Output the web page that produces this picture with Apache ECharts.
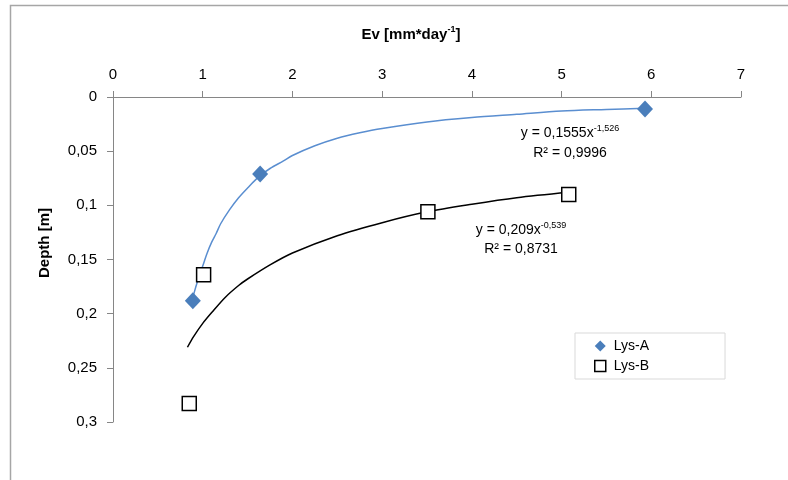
<!DOCTYPE html>
<html>
<head>
<meta charset="utf-8">
<script src="https://cdn.jsdelivr.net/npm/echarts@6/dist/echarts.min.js"></script>
<style>
  html, body { margin: 0; padding: 0; background: #fff; }
  #chart { width: 788px; height: 480px; }
</style>
</head>
<body>
<div id="chart"></div>
<script>
// measured points (Ev, depth)
const lysA = [[5.93, 0.011], [1.64, 0.071], [0.89, 0.188]]
const lysB = [[5.08, 0.090], [3.51, 0.106], [1.01, 0.164], [0.85, 0.283]]

// trend curves
const trendAx = [0.87, 0.9, 0.95, 1.0, 1.05, 1.1, 1.15, 1.2, 1.3, 1.4, 1.5, 1.62, 1.75, 1.9, 2.0, 2.25, 2.5, 2.75, 3.0, 3.5, 4.0, 4.5, 5.0, 5.5, 5.93]
const trendAy = [0.192, 0.182, 0.168, 0.156, 0.144, 0.134, 0.126, 0.117, 0.104, 0.093, 0.084, 0.074, 0.066, 0.059, 0.054, 0.045, 0.038, 0.033, 0.029, 0.023, 0.019, 0.016, 0.013, 0.0115, 0.0103]
const trendBx = [0.83, 0.9, 1.0, 1.1, 1.25, 1.4, 1.5, 1.75, 2.0, 2.5, 3.0, 3.5, 4.0, 4.5, 5.08]
const trendBy = [0.231, 0.221, 0.209, 0.199, 0.185, 0.174, 0.168, 0.155, 0.144, 0.128, 0.116, 0.106, 0.099, 0.093, 0.088]

const font = '"Liberation Sans", Arial, sans-serif'
const axisColor = '#868686'
const blue = '#4a7ebb'

const chart = echarts.init(document.getElementById('chart'))

const pairs = (xs, ys) => xs.map((x, i) => [x, ys[i]])

const eqText = (x, y, main, sup) => ({
  type: 'text',
  x: x,
  y: y,
  style: {
    text: '{n|' + main + '}' + (sup ? '{s|' + sup + '}' : ''),
    align: 'center',
    verticalAlign: 'middle',
    rich: {
      n: { fontFamily: font, fontSize: 14, fill: '#000', lineHeight: 18 },
      s: { fontFamily: font, fontSize: 9, fill: '#000', verticalAlign: 'top', lineHeight: 10 }
    }
  }
})

chart.setOption({
  backgroundColor: '#fff',
  animation: false,
  grid: { left: 113, top: 97, width: 628, height: 325 },
  legend: {
    data: [
      { name: 'Lys-A', icon: 'diamond' },
      { name: 'Lys-B', icon: 'rect', itemStyle: { color: '#fff', borderColor: '#000', borderWidth: 1.5 } }
    ],
    orient: 'vertical',
    left: 575,
    top: 333,
    padding: [6, 76, 6, 19],
    itemGap: 6,
    itemWidth: 11,
    itemHeight: 11,
    borderColor: '#d9d9d9',
    borderWidth: 1,
    textStyle: { fontFamily: font, fontSize: 14, color: '#000', padding: [0, 0, 0, 3] }
  },
  xAxis: {
    type: 'value',
    position: 'top',
    min: 0,
    max: 7,
    interval: 1,
    axisLine: { lineStyle: { color: axisColor, width: 1 } },
    axisTick: { show: true, length: 6, lineStyle: { color: axisColor } },
    axisLabel: { margin: 15, fontFamily: font, fontSize: 15, color: '#000' },
    splitLine: { show: false }
  },
  yAxis: {
    type: 'value',
    inverse: true,
    min: 0,
    max: 0.3,
    interval: 0.05,
    axisLine: { show: true, lineStyle: { color: axisColor, width: 1 } },
    axisTick: { show: true, length: 6, lineStyle: { color: axisColor } },
    axisLabel: {
      margin: 16,
      fontFamily: font,
      fontSize: 15,
      color: '#000',
      formatter: v => String(Math.round(v * 100) / 100).replace('.', ',')
    },
    splitLine: { show: false }
  },
  series: [
    {
      name: 'trendA',
      type: 'line',
      data: pairs(trendAx, trendAy),
      smooth: 0.3,
      showSymbol: false,
      silent: true,
      lineStyle: { color: '#5a8ed0', width: 1.5 },
      z: 1
    },
    {
      name: 'trendB',
      type: 'line',
      data: pairs(trendBx, trendBy),
      smooth: 0.3,
      showSymbol: false,
      silent: true,
      lineStyle: { color: '#000', width: 1.5 },
      z: 1
    },
    {
      name: 'Lys-A',
      type: 'scatter',
      data: lysA,
      symbol: 'diamond',
      symbolSize: [16, 17],
      itemStyle: { color: blue, opacity: 1 },
      z: 3
    },
    {
      name: 'Lys-B',
      type: 'scatter',
      data: lysB,
      symbol: 'rect',
      symbolSize: 14,
      itemStyle: { color: '#fff', borderColor: '#000', borderWidth: 1.5, opacity: 1 },
      z: 3
    }
  ],
  graphic: [
    {
      type: 'rect',
      shape: { x: 10.5, y: 5.5, width: 800, height: 500 },
      style: { fill: 'none', stroke: '#a6a6a6', lineWidth: 1.5 },
      silent: true
    },
    {
      type: 'text',
      x: 411,
      y: 35,
      style: {
        text: '{b|Ev [mm*day}{s|-1}{b|]}',
        align: 'center',
        verticalAlign: 'middle',
        rich: {
          b: { fontFamily: font, fontSize: 15, fontWeight: 'bold', fill: '#000', lineHeight: 20 },
          s: { fontFamily: font, fontSize: 9, fontWeight: 'bold', fill: '#000', verticalAlign: 'top', lineHeight: 12 }
        }
      }
    },
    {
      type: 'text',
      x: 45,
      y: 243,
      rotation: Math.PI / 2,
      style: {
        text: 'Depth [m]',
        fontFamily: font,
        fontSize: 15,
        fontWeight: 'bold',
        fill: '#000',
        align: 'center',
        verticalAlign: 'middle'
      }
    },
    eqText(570, 133, 'y = 0,1555x', '-1,526'),
    eqText(570, 153, 'R² = 0,9996'),
    eqText(521, 230, 'y = 0,209x', '-0,539'),
    eqText(521, 249, 'R² = 0,8731')
  ]
})
</script>
</body>
</html>
